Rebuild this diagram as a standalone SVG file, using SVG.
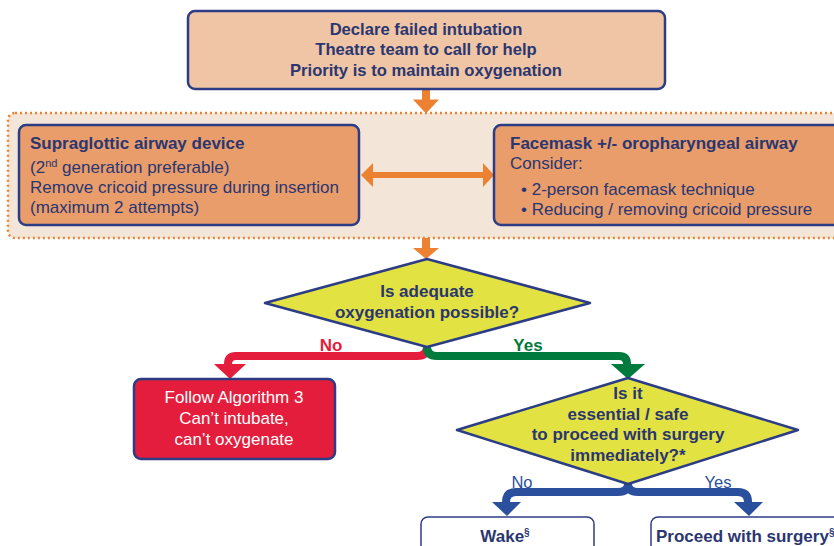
<svg xmlns="http://www.w3.org/2000/svg" width="834" height="546" viewBox="0 0 834 546">
<style>
  .t{font-family:"Liberation Sans",Arial,sans-serif;font-size:17px;fill:#2b3670}
  .b{font-weight:bold}
  .c{text-anchor:middle}
  .w{fill:#ffffff}
  .box{stroke:#2c3d85;stroke-width:2.5}
  .or{fill:#ec8132}
</style>
<rect width="834" height="546" fill="#ffffff"/>
<g id="container">
  <rect x="8" y="113" width="840" height="125" rx="7" fill="#f3e6d8" stroke="#ec8132" stroke-width="2.5" stroke-dasharray="2 3"/>
</g>
<g id="connectors">
  <path class="or" d="M422 89.5h8v10h9l-13 14l-13-14h9z"/>
  <path class="or" d="M422 238h8v10h9l-13 11l-13-11h9z"/>
  <path class="or" d="M361 175l12-12v9h110v-9l11 12l-11 12v-9h-110v9z"/>
  <path d="M427 347q0 9-10 9H236q-8 0-8 8v2" fill="none" stroke="#e31d3b" stroke-width="8"/>
  <path d="M214 364h32l-16 15z" fill="#e31d3b"/>
  <path d="M427 347q0 9 10 9H619q8 0 8 8v2" fill="none" stroke="#007a3d" stroke-width="8"/>
  <path d="M611 364h34l-17 15z" fill="#007a3d"/>
  <path d="M628 484q0 8-10 8H516q-10 0-10 10v2" fill="none" stroke="#2a4f9c" stroke-width="8"/>
  <path d="M492 502h29l-14 14z" fill="#2a4f9c"/>
  <path d="M628 484q0 8 10 8H738q10 0 10 10v2" fill="none" stroke="#2a4f9c" stroke-width="8"/>
  <path d="M734 502h29l-14 14z" fill="#2a4f9c"/>
  <text x="331" y="351" class="t b c" style="fill:#e31d3b">No</text>
  <text x="528" y="351" class="t b c" style="fill:#007a3d">Yes</text>
  <text x="522" y="488" class="t c" style="fill:#2a4f9c;font-size:16.5px">No</text>
  <text x="718" y="488" class="t c" style="fill:#2a4f9c;font-size:16.5px">Yes</text>
</g>
<g id="declare">
  <rect x="188" y="11" width="477" height="78" rx="7" fill="#efc5a5" class="box"/>
  <text x="426" y="35" class="t b c" style="font-size:16.6px">Declare failed intubation</text>
  <text x="426" y="55" class="t b c" style="font-size:16.6px">Theatre team to call for help</text>
  <text x="426" y="76" class="t b c" style="font-size:16.6px">Priority is to maintain oxygenation</text>
</g>
<g id="supraglottic">
  <rect x="19" y="125" width="340" height="100" rx="7" fill="#e89d6b" class="box"/>
  <text x="30" y="149" class="t b">Supraglottic airway device</text>
  <text x="30" y="173" class="t">(2<tspan font-size="11" dy="-6">nd</tspan><tspan dy="6"> generation preferable)</tspan></text>
  <text x="30" y="193" class="t">Remove cricoid pressure during insertion</text>
  <text x="30" y="213" class="t">(maximum 2 attempts)</text>
</g>
<g id="facemask">
  <rect x="494" y="125" width="350" height="100" rx="7" fill="#e89d6b" class="box"/>
  <text x="510" y="149" class="t b">Facemask +/- oropharyngeal airway</text>
  <text x="510" y="169" class="t">Consider:</text>
  <text x="521" y="195" class="t">• 2-person facemask technique</text>
  <text x="521" y="215" class="t">• Reducing / removing cricoid pressure</text>
</g>
<g id="decision1">
  <path d="M427 259L590 303L427 347L265 303z" fill="#e2e242" stroke="#2c3d85" stroke-width="2.5" stroke-linejoin="round"/>
  <text x="427" y="297" class="t b c">Is adequate</text>
  <text x="427" y="318" class="t b c">oxygenation possible?</text>
</g>
<g id="algorithm3">
  <rect x="134" y="379" width="201" height="80" rx="7" fill="#e31d3b" class="box"/>
  <text x="234" y="403" class="t c w">Follow Algorithm 3</text>
  <text x="234" y="424" class="t c w">Can’t intubate,</text>
  <text x="234" y="445" class="t c w">can’t oxygenate</text>
</g>
<g id="decision2">
  <path d="M628 378L798 430L628 484L457 430z" fill="#e2e242" stroke="#2c3d85" stroke-width="2.5" stroke-linejoin="round"/>
  <text x="628" y="399" class="t b c">Is it</text>
  <text x="628" y="420" class="t b c">essential / safe</text>
  <text x="628" y="440" class="t b c">to proceed with surgery</text>
  <text x="628" y="461" class="t b c">immediately?*</text>
</g>
<g id="wake">
  <rect x="421" y="517" width="173" height="40" rx="7" fill="#ffffff" stroke="#2c3d85" stroke-width="1.5"/>
  <text x="505" y="542" class="t b c">Wake<tspan font-size="10" dy="-6">§</tspan></text>
</g>
<g id="proceed">
  <rect x="651" y="517" width="200" height="40" rx="7" fill="#ffffff" stroke="#2c3d85" stroke-width="1.5"/>
  <text x="656" y="542" class="t b">Proceed with surgery<tspan font-size="10" dy="-6">§</tspan></text>
</g>
</svg>
